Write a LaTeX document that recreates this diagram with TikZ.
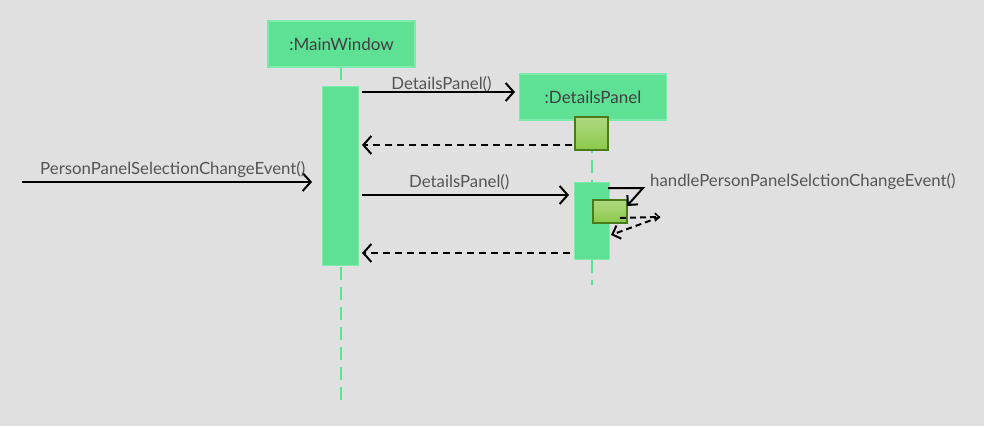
\documentclass[tikz,border=0pt]{standalone}
\usepackage{fontspec}
\setmainfont{Lato}
\usetikzlibrary{arrows.meta}
\definecolor{bg}{HTML}{E0E0E0}
\definecolor{objfill}{HTML}{5EE095}
\definecolor{objline}{HTML}{7EEBAE}
\definecolor{txt}{HTML}{555555}
\definecolor{actfill}{HTML}{8CC84B}
\definecolor{actline}{HTML}{4A7A1A}
\tikzset{
  x=1pt,y=-1pt,
  obj/.style={draw=objline,line width=1.2pt,fill=objfill,minimum width=147pt,minimum height=46pt,inner sep=0pt,font=\fontsize{17}{19}\selectfont,text=black!75},
  act/.style={draw=objline,line width=1pt,fill=objfill},
  sub/.style={draw=actline,line width=1.5pt,top color=actfill!70!white,bottom color=actfill},
  life/.style={objfill,line width=2pt,dash pattern=on 13pt off 7pt},
  msg/.style={line width=2pt,-{Straight Barb[length=8pt,width=18pt,line width=2pt]}},
  ret/.style={msg,dash pattern=on 7pt off 5pt},
  lbl/.style={text=txt,font=\fontsize{16.8}{19}\selectfont,inner sep=0pt}
}
\begin{document}
\begin{tikzpicture}
\fill[bg] (0,0) rectangle (984,426);
\useasboundingbox (0,0) rectangle (984,426);
% lifelines
\draw[life] (341,67) -- (341,405);
\draw[life] (592,120) -- (592,285);
% objects
\node[obj] (mw) at (341.5,44) {:MainWindow};
\node[obj] (dp) at (593,97) {:DetailsPanel};
% activations
\draw[act] (322,86) rectangle (358,265);
\draw[act] (574,182) rectangle (609,259);
\draw[sub] (575,117) rectangle (608,150);
% first call
\coordinate (a1s) at (362,92);
\coordinate (a1e) at (515,92);
\draw[msg] (a1s) -- (a1e) node[lbl,pos=0.52,above=-1pt] {DetailsPanel()};
\coordinate (r1s) at (572,145);
\coordinate (r1e) at (362,145);
\draw[ret] (r1s) -- (r1e);
% incoming
\coordinate (ins) at (22,182);
\coordinate (ine) at (312,182);
\draw[msg] (ins) -- (ine) node[lbl,pos=0.52,above=3pt] {PersonPanelSelectionChangeEvent()};
% second call
\coordinate (a2s) at (362,195);
\coordinate (a2e) at (569,195);
\draw[msg] (a2s) -- (a2e) node[lbl,pos=0.47,above=4pt] {DetailsPanel()};
% self call
\draw[sub] (593,200) rectangle (627,223);
\coordinate (sc1) at (608,188);
\coordinate (sc2) at (643,188);
\coordinate (sc3) at (627,206);
\draw[line width=2pt,-{Straight Barb[length=7pt,width=14pt,line width=2pt]}] (sc1) -- (sc2) -- (sc3);
\node[lbl,anchor=south west] (hl) at (650,190) {handlePersonPanelSelctionChangeEvent()};
\coordinate (sr1) at (620,218);
\coordinate (sr2) at (660,217);
\coordinate (sr3) at (611,235);
\draw[line width=2pt,dash pattern=on 6pt off 4pt,-{Straight Barb[length=4pt,width=8pt,line width=1.5pt]}] (sr1) -- (sr2);
\draw[line width=2pt,dash pattern=on 6pt off 4pt,-{Straight Barb[length=7pt,width=14pt,line width=2pt]}] (sr2) -- (sr3);
% final return
\coordinate (r2s) at (570,253);
\coordinate (r2e) at (362,253);
\draw[ret] (r2s) -- (r2e);
\end{tikzpicture}
\end{document}
